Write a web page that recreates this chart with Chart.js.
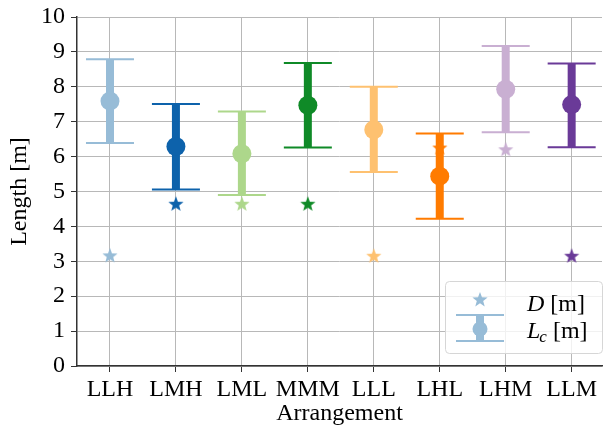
<!DOCTYPE html>
<html>
<head>
<meta charset="utf-8">
<script src="https://cdn.jsdelivr.net/npm/chart.js@4"></script>
<style>
  html, body { margin: 0; padding: 0; background: #fff; }
  #wrap { width: 612px; height: 433px; }
</style>
</head>
<body>
<div id="wrap"><canvas id="chart" width="612" height="433"></canvas></div>
<script>
const categories = ['LLH', 'LMH', 'LML', 'MMM', 'LLL', 'LHL', 'LHM', 'LLM'];
const lcMean = [7.59, 6.29, 6.08, 7.47, 6.77, 5.44, 7.93, 7.49];
const lcUpper = [8.79, 7.51, 7.29, 8.68, 8.0, 6.66, 9.17, 8.67];
const lcLower = [6.39, 5.06, 4.9, 6.26, 5.56, 4.22, 6.7, 6.27];
const dValues = [3.17, 4.65, 4.65, 4.65, 3.16, 6.26, 6.21, 3.16];
const colors = ['#97bcd7', '#0d62ab', '#add78b', '#0f8a27', '#fec170', '#ff7b00', '#c9afd2', '#6a3a98'];
const yTicks = [0, 1, 2, 3, 4, 5, 6, 7, 8, 9, 10];

const FONT = '"Liberation Serif", "DejaVu Serif", serif';

function drawStar(ctx, cx, cy, r, color) {
    const inner = r * 0.42;
    ctx.beginPath();
    for (let i = 0; i < 10; i++) {
        const rad = i % 2 === 0 ? r : inner;
        const a = -Math.PI / 2 + i * Math.PI / 5;
        const px = cx + rad * Math.cos(a);
        const py = cy + rad * Math.sin(a);
        if (i === 0) ctx.moveTo(px, py); else ctx.lineTo(px, py);
    }
    ctx.closePath();
    ctx.fillStyle = color;
    ctx.fill();
}

function starImage(color) {
    const c = document.createElement('canvas');
    c.width = 18;
    c.height = 18;
    drawStar(c.getContext('2d'), 9, 9.6, 8, color);
    return c;
}

const errorBars = {
    id: 'errorBars',
    afterDatasetDraw(chart, args) {
        if (args.index !== 1) return;
        const ctx = chart.ctx;
        const xs = chart.scales.x;
        const ys = chart.scales.y;
        ctx.save();
        categories.forEach((c, i) => {
            const x = xs.getPixelForValue(i);
            const top = ys.getPixelForValue(lcUpper[i]);
            const bot = ys.getPixelForValue(lcLower[i]);
            ctx.strokeStyle = colors[i];
            ctx.lineWidth = 8;
            ctx.beginPath();
            ctx.moveTo(x, top);
            ctx.lineTo(x, bot);
            ctx.stroke();
            ctx.lineWidth = 2;
            ctx.beginPath();
            ctx.moveTo(x - 24, top);
            ctx.lineTo(x + 24, top);
            ctx.moveTo(x - 24, bot);
            ctx.lineTo(x + 24, bot);
            ctx.stroke();
        });
        ctx.restore();
    },
    afterDraw(chart) {
        // legend box, bottom right
        const ctx = chart.ctx;
        const lc = '#97bcd7';
        ctx.save();
        ctx.fillStyle = 'rgba(255,255,255,0.8)';
        ctx.strokeStyle = '#d6d6d6';
        ctx.lineWidth = 1;
        ctx.beginPath();
        ctx.roundRect(445.5, 281.5, 157, 72, 4);
        ctx.fill();
        ctx.stroke();

        drawStar(ctx, 480, 300, 8, lc);

        ctx.strokeStyle = lc;
        ctx.lineWidth = 8;
        ctx.beginPath();
        ctx.moveTo(480, 315);
        ctx.lineTo(480, 341);
        ctx.stroke();
        ctx.lineWidth = 2;
        ctx.beginPath();
        ctx.moveTo(456, 315);
        ctx.lineTo(504, 315);
        ctx.moveTo(456, 341);
        ctx.lineTo(504, 341);
        ctx.stroke();
        ctx.fillStyle = lc;
        ctx.beginPath();
        ctx.arc(480, 329, 7.5, 0, Math.PI * 2);
        ctx.fill();

        ctx.fillStyle = '#000';
        ctx.textBaseline = 'alphabetic';
        ctx.textAlign = 'left';
        let x = 527;
        ctx.font = 'italic 24px ' + FONT;
        ctx.fillText('D', x, 311);
        x += ctx.measureText('D').width;
        ctx.font = '24px ' + FONT;
        ctx.fillText(' [m]', x, 311);

        x = 527;
        ctx.font = 'italic 24px ' + FONT;
        ctx.fillText('L', x, 338);
        x += ctx.measureText('L').width - 1;
        ctx.font = 'italic 17px ' + FONT;
        ctx.fillText('c', x, 342);
        x += ctx.measureText('c').width;
        ctx.font = '24px ' + FONT;
        ctx.fillText(' [m]', x, 338);
        ctx.restore();
    }
};

new Chart(document.getElementById('chart'), {
    type: 'scatter',
    data: {
        datasets: [
            {
                label: 'Lc [m]',
                data: lcMean.map((v, i) => ({ x: i, y: v })),
                pointRadius: 9.5,
                pointHoverRadius: 9.5,
                pointBackgroundColor: colors,
                pointBorderWidth: 0
            },
            {
                label: 'D [m]',
                data: dValues.map((v, i) => ({ x: i, y: v })),
                pointStyle: colors.map(starImage),
                pointRadius: 9
            }
        ]
    },
    options: {
        responsive: false,
        animation: false,
        layout: { padding: { top: 17, right: 0, left: 0, bottom: 0 } },
        plugins: { legend: { display: false }, tooltip: { enabled: false } },
        scales: {
            x: {
                type: 'linear',
                min: -0.5,
                max: 7.46,
                afterBuildTicks: (scale) => { scale.ticks = categories.map((c, i) => ({ value: i })); },
                afterFit: (scale) => { scale.height = 67; scale.paddingLeft = 0; scale.paddingRight = 0; },
                ticks: {
                    callback: (v) => categories[v],
                    font: { family: FONT, size: 24 },
                    color: '#000',
                    padding: 3,
                    maxRotation: 0,
                    autoSkip: false
                },
                grid: { color: '#b8b8b8', lineWidth: 1, tickLength: 6, tickColor: '#333' },
                border: { color: '#333', width: 1.5 },
                title: { display: true, text: 'Arrangement', font: { family: FONT, size: 24 }, color: '#000', padding: { top: 0, bottom: 5 } }
            },
            y: {
                min: 0,
                max: 10,
                afterBuildTicks: (scale) => { scale.ticks = yTicks.map((v) => ({ value: v })); },
                afterFit: (scale) => { scale.width = 77; scale.paddingTop = 0; scale.paddingBottom = 0; },
                ticks: {
                    font: { family: FONT, size: 24 },
                    color: '#000',
                    padding: 6
                },
                grid: { color: '#b8b8b8', lineWidth: 1, tickLength: 6, tickColor: '#333' },
                border: { color: '#333', width: 1.5 },
                title: { display: true, text: 'Length [m]', font: { family: FONT, size: 24 }, color: '#000', padding: { top: 5, bottom: 4 } }
            }
        }
    },
    plugins: [errorBars]
});
</script>
</body>
</html>
